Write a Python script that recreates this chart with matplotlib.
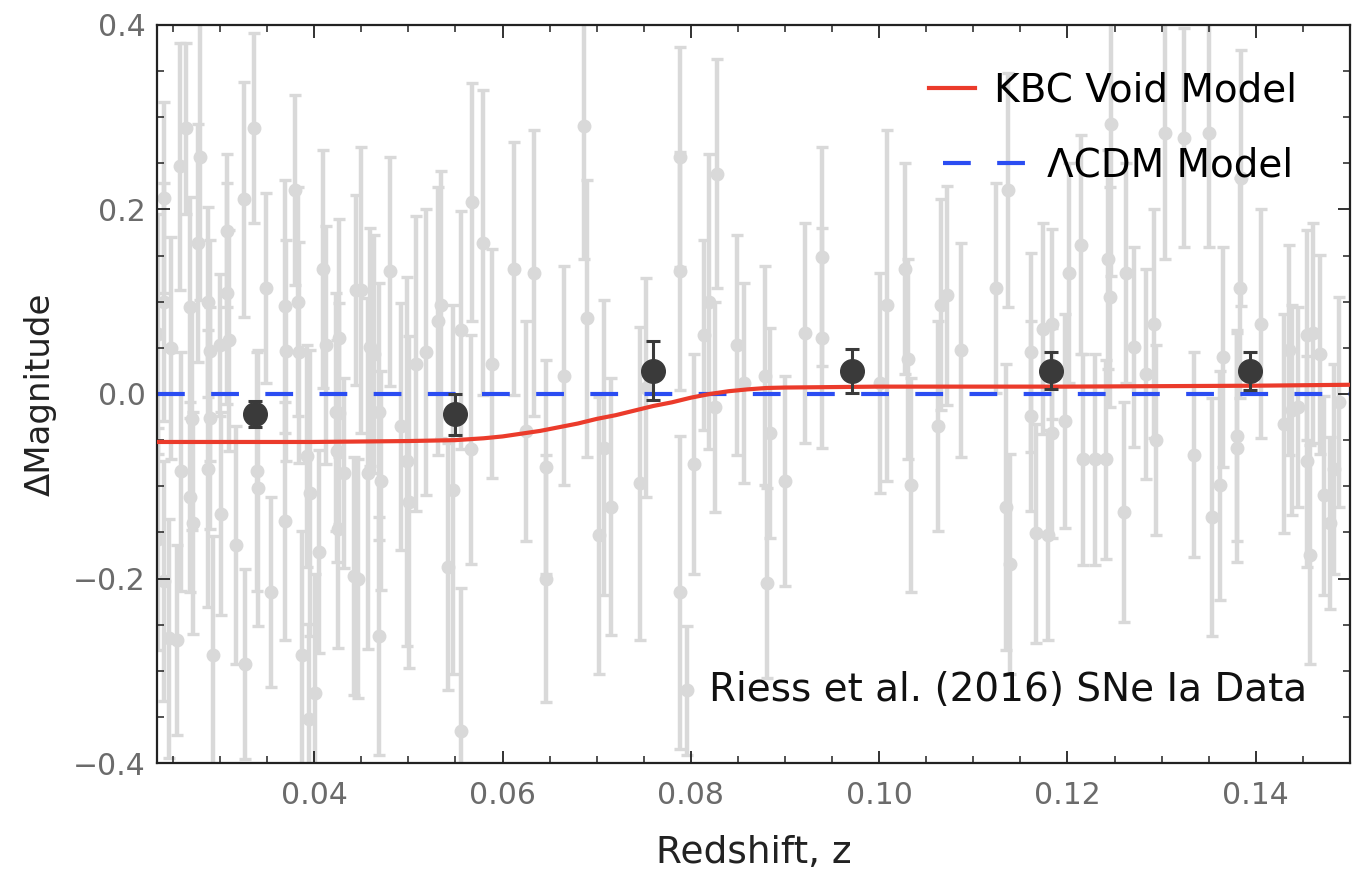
import numpy as np
import matplotlib
matplotlib.use("Agg")
import matplotlib.pyplot as plt
from matplotlib.ticker import MultipleLocator, FixedLocator
from matplotlib.lines import Line2D

plt.rcParams['font.family'] = ['DejaVu Sans']
plt.rcParams['lines.scale_dashes'] = False

# Riess et al. (2016) SNe Ia: redshift, delta magnitude, 1-sigma error
z_sn = [
    0.0240, 0.0241, 0.0254, 0.0257, 0.0264, 0.0268, 0.0277, 0.0279, 0.0287, 0.0287,
    0.0293, 0.0300, 0.0307, 0.0317, 0.0325, 0.0326, 0.0336, 0.0340, 0.0349, 0.0354,
    0.0369, 0.0369, 0.0380, 0.0383, 0.0387, 0.0395, 0.0394, 0.0401, 0.0409, 0.0413,
    0.0423, 0.0426, 0.0425, 0.0432, 0.0442, 0.0444,
    0.0301, 0.0270, 0.0307, 0.0370, 0.0384, 0.0234, 0.0248, 0.0289, 0.0310, 0.0289,
    0.0259, 0.0271, 0.0339, 0.0405, 0.0424, 0.0392, 0.0234, 0.0241, 0.0246, 0.0268,
    0.0426,
    0.0450, 0.0447, 0.0459, 0.0457, 0.0464, 0.0469, 0.0471, 0.0469, 0.0480, 0.0492,
    0.0499, 0.0501, 0.0508, 0.0519, 0.0531, 0.0535, 0.0547, 0.0542, 0.0556, 0.0556,
    0.0568, 0.0566, 0.0579, 0.0589, 0.0612, 0.0625, 0.0633, 0.0646, 0.0646,
    0.0665, 0.0686, 0.0690, 0.0702, 0.0708, 0.0715, 0.0746, 0.0752, 0.0789, 0.0789,
    0.0789, 0.0796, 0.0803, 0.0814, 0.0819, 0.0826, 0.0828, 0.0849, 0.0856,
    0.0879, 0.0881, 0.0884, 0.0900, 0.0921, 0.0939, 0.0939, 0.1008, 0.1001, 0.1027,
    0.1031, 0.1034, 0.1062, 0.1066, 0.1072,
    0.1087, 0.1124, 0.1137, 0.1135, 0.1139, 0.1161, 0.1161, 0.1167, 0.1174, 0.1179,
    0.1184, 0.1184, 0.1197, 0.1202, 0.1214, 0.1216, 0.1229, 0.1243, 0.1246, 0.1245,
    0.1241, 0.1260, 0.1262, 0.1271, 0.1283,
    0.1292, 0.1294, 0.1304, 0.1324, 0.1350, 0.1334, 0.1354, 0.1362, 0.1365, 0.1380,
    0.1380, 0.1383, 0.1384, 0.1405, 0.1430, 0.1435, 0.1438, 0.1445, 0.1454, 0.1454,
    0.1458, 0.1461, 0.1468, 0.1472, 0.1479, 0.1483, 0.1488,
]
dm_sn = [
    0.100, 0.213, -0.267, 0.247, 0.288, -0.112, 0.164, 0.257, 0.100, -0.081,
    -0.283, 0.053, 0.177, -0.164, 0.211, -0.293, 0.288, -0.102, 0.115, -0.215,
    0.095, -0.138, 0.221, 0.100, -0.283, -0.107, -0.352, -0.324, 0.136, 0.053,
    -0.019, 0.061, -0.146, -0.086, -0.197, 0.113,
    -0.130, -0.027, 0.109, 0.047, 0.045, 0.065, 0.050, 0.047, 0.058, -0.026,
    -0.084, -0.140, -0.084, -0.171, -0.062, -0.067, -0.157, -0.203, -0.265, 0.094,
    -0.021,
    0.113, -0.200, 0.051, -0.086, 0.043, -0.019, -0.094, -0.262, 0.133, -0.035,
    -0.073, -0.117, 0.033, 0.045, 0.079, 0.097, -0.104, -0.187, 0.069, -0.365,
    0.208, -0.060, 0.164, 0.033, 0.136, -0.040, 0.131, -0.079, -0.200,
    0.020, 0.291, 0.082, -0.153, -0.058, -0.122, -0.097, 0.007, 0.257, 0.133,
    -0.215, -0.321, -0.076, 0.064, 0.100, -0.014, 0.239, 0.053, 0.012,
    0.020, -0.205, -0.042, -0.094, 0.066, 0.149, 0.061, 0.096, 0.012, 0.136,
    0.038, -0.099, -0.035, 0.097, 0.107,
    0.048, 0.115, 0.221, -0.122, -0.184, 0.045, -0.024, -0.151, 0.071, -0.153,
    0.076, -0.042, -0.029, 0.131, 0.162, -0.071, -0.071, 0.146, 0.293, 0.105,
    -0.071, -0.128, 0.131, 0.051, 0.022,
    0.076, -0.050, 0.283, 0.278, 0.283, -0.066, -0.133, -0.099, 0.040, -0.045,
    -0.058, 0.115, 0.234, 0.076, -0.032, 0.048, -0.017, -0.014, 0.064, -0.073,
    -0.174, 0.066, 0.043, -0.110, -0.140, -0.081, -0.009,
]
err_sn = [
    0.129, 0.103, 0.103, 0.134, 0.093, 0.103, 0.129, 0.155, 0.103, 0.150,
    0.129, 0.077, 0.083, 0.129, 0.127, 0.103, 0.103, 0.150, 0.103, 0.103,
    0.137, 0.129, 0.103, 0.124, 0.134, 0.155, 0.103, 0.129, 0.129, 0.129,
    0.129, 0.129, 0.129, 0.103, 0.129, 0.103,
    0.110, 0.120, 0.120, 0.120, 0.120, 0.130, 0.120, 0.120, 0.120, 0.120,
    0.130, 0.120, 0.130, 0.110, 0.120, 0.120, 0.120, 0.130, 0.130, 0.120,
    0.120,
    0.155, 0.129, 0.129, 0.190, 0.129, 0.139, 0.119, 0.129, 0.124, 0.134,
    0.200, 0.180, 0.160, 0.155, 0.145, 0.145, 0.200, 0.134, 0.129, 0.155,
    0.129, 0.124, 0.165, 0.124, 0.137, 0.119, 0.155, 0.116, 0.134,
    0.119, 0.145, 0.150, 0.150, 0.160, 0.139, 0.170, 0.119, 0.119, 0.129,
    0.170, 0.070, 0.119, 0.103, 0.160, 0.114, 0.124, 0.119, 0.108,
    0.119, 0.103, 0.114, 0.114, 0.119, 0.119, 0.119, 0.190, 0.119, 0.114,
    0.108, 0.116, 0.114, 0.114, 0.119,
    0.116, 0.114, 0.127, 0.155, 0.119, 0.108, 0.103, 0.119, 0.114, 0.114,
    0.103, 0.114, 0.116, 0.119, 0.119, 0.114, 0.114, 0.119, 0.165, 0.119,
    0.108, 0.119, 0.119, 0.108, 0.114,
    0.124, 0.103, 0.137, 0.119, 0.124, 0.111, 0.129, 0.124, 0.119, 0.114,
    0.124, 0.119, 0.139, 0.124, 0.119, 0.114, 0.114, 0.108, 0.114, 0.114,
    0.119, 0.119, 0.108, 0.108, 0.093, 0.114, 0.114,
]

# binned averages
z_bin = [0.0337, 0.0549, 0.0760, 0.0971, 0.1183, 0.1394]
dm_bin = [-0.022, -0.022, 0.025, 0.025, 0.025, 0.025]
err_bin = [0.014, 0.022, 0.032, 0.024, 0.020, 0.021]

# KBC void model curve
z_kbc = [0.0233, 0.030, 0.040, 0.050, 0.055, 0.058, 0.060, 0.062, 0.064, 0.066,
         0.068, 0.070, 0.072, 0.074, 0.076, 0.078, 0.080, 0.082, 0.084, 0.086,
         0.088, 0.090, 0.095, 0.100, 0.110, 0.120, 0.130, 0.140, 0.150]
dm_kbc = [-0.052, -0.052, -0.052, -0.051, -0.050, -0.048, -0.046, -0.043, -0.040, -0.036,
          -0.032, -0.027, -0.023, -0.018, -0.013, -0.009, -0.004, 0.000, 0.003, 0.005,
          0.0065, 0.007, 0.0075, 0.008, 0.008, 0.008, 0.0085, 0.009, 0.010]

x_ticks = [0.04, 0.06, 0.08, 0.10, 0.12, 0.14]
x_ticklabels = ['0.04', '0.06', '0.08', '0.10', '0.12', '0.14']
y_ticks = [-0.4, -0.2, 0.0, 0.2, 0.4]
y_ticklabels = ['\u22120.4', '\u22120.2', '0.0', '0.2', '0.4']

xlim = (0.0233, 0.15)
ylim = (-0.4, 0.4)

red = '#eb3b2b'
blue = '#2b4df2'

fig = plt.figure(figsize=(13.52, 8.74), dpi=100)
ax = fig.add_axes([0.1161, 0.127, 0.8824, 0.8444])

gray = '#d9d9d9'
ax.errorbar(z_sn, dm_sn, yerr=err_sn, fmt='o', color=gray, ms=9, elinewidth=3.2,
            capsize=4, capthick=2.4, zorder=1)

ax.plot(xlim, [0, 0], color=blue, lw=3, dashes=(20, 19), zorder=2)
ax.plot(z_kbc, dm_kbc, color=red, lw=3, zorder=3)

ax.errorbar(z_bin, dm_bin, yerr=err_bin, fmt='o', color='#3a3a3a', ms=17,
            elinewidth=2.2, capsize=5, capthick=2.2, zorder=4)

ax.set_xlim(*xlim)
ax.set_ylim(*ylim)

ax.xaxis.set_major_locator(FixedLocator(x_ticks))
ax.xaxis.set_minor_locator(MultipleLocator(0.005))
ax.yaxis.set_major_locator(FixedLocator(y_ticks))
ax.yaxis.set_minor_locator(MultipleLocator(0.05))
ax.set_xticklabels(x_ticklabels)
ax.set_yticklabels(y_ticklabels)

ax.tick_params(which='both', direction='in', top=True, right=True,
               labelsize=21.5, labelcolor='#6b6b6b', color='#222222')
ax.tick_params(axis='x', which='both', pad=13)
ax.tick_params(axis='y', which='both', pad=8)
ax.tick_params(which='major', length=9, width=1.3)
ax.tick_params(which='minor', length=5, width=1.1)
for sp in ax.spines.values():
    sp.set_linewidth(1.6)
    sp.set_color('#222222')

ax.set_xlabel('Redshift, z', fontsize=27, color='#222222', labelpad=18)
ax.set_ylabel('ΔMagnitude', fontsize=24.5, color='#222222', labelpad=12)

# two separate legend entries (handles of different length, as in the original)
h_kbc = Line2D([], [], color=red, lw=3)
h_lcdm = Line2D([], [], color=blue, lw=3, dashes=(20, 19))
leg1 = ax.legend([h_kbc], ['KBC Void Model'], loc='upper right', frameon=False,
                 fontsize=28, handlelength=1.16, handletextpad=0.5,
                 borderpad=0, borderaxespad=0, bbox_to_anchor=(0.9556, 0.937))
ax.add_artist(leg1)
ax.legend([h_lcdm], ['ΛCDM Model'], loc='upper right', frameon=False,
          fontsize=28, handlelength=2.13, handletextpad=0.55,
          borderpad=0, borderaxespad=0, bbox_to_anchor=(0.9522, 0.835))

ax.text(0.964, 0.099, 'Riess et al. (2016) SNe Ia Data', transform=ax.transAxes,
        ha='right', va='center', fontsize=28, color='#111111')

fig.savefig('out.png', dpi=100)
